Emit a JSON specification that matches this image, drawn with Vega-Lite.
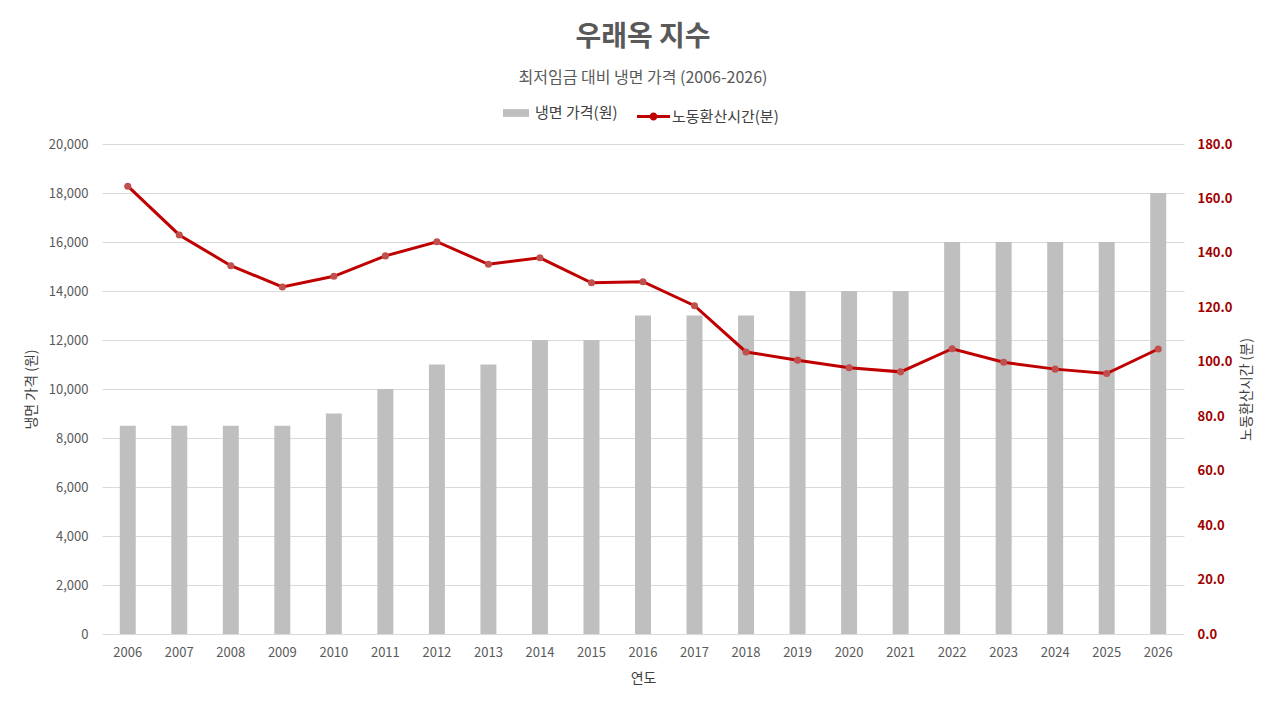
{
  "$schema": "https://vega.github.io/schema/vega-lite/v6.json",
  "width": 1082,
  "height": 490,
  "autosize": "none",
  "padding": {"left": 102, "top": 144, "right": 96, "bottom": 78},
  "background": "white",
  "title": {
    "text": "우래옥 지수",
    "subtitle": "최저임금 대비 냉면 가격 (2006-2026)",
    "font": "Noto Sans CJK KR",
    "fontSize": 28,
    "fontWeight": "bold",
    "color": "#595959",
    "subtitleFont": "Noto Sans CJK KR",
    "subtitleFontSize": 16,
    "subtitleColor": "#595959",
    "subtitlePadding": 18,
    "anchor": "middle",
    "offset": 14
  },
  "data": {
    "values": [
      {"year": "2006", "price": 8500, "minutes": 164.5, "s1": "냉면 가격(원)", "s2": "노동환산시간(분)"},
      {"year": "2007", "price": 8500, "minutes": 146.6, "s1": "냉면 가격(원)", "s2": "노동환산시간(분)"},
      {"year": "2008", "price": 8500, "minutes": 135.3, "s1": "냉면 가격(원)", "s2": "노동환산시간(분)"},
      {"year": "2009", "price": 8500, "minutes": 127.5, "s1": "냉면 가격(원)", "s2": "노동환산시간(분)"},
      {"year": "2010", "price": 9000, "minutes": 131.4, "s1": "냉면 가격(원)", "s2": "노동환산시간(분)"},
      {"year": "2011", "price": 10000, "minutes": 138.9, "s1": "냉면 가격(원)", "s2": "노동환산시간(분)"},
      {"year": "2012", "price": 11000, "minutes": 144.1, "s1": "냉면 가격(원)", "s2": "노동환산시간(분)"},
      {"year": "2013", "price": 11000, "minutes": 135.8, "s1": "냉면 가격(원)", "s2": "노동환산시간(분)"},
      {"year": "2014", "price": 12000, "minutes": 138.2, "s1": "냉면 가격(원)", "s2": "노동환산시간(분)"},
      {"year": "2015", "price": 12000, "minutes": 129.0, "s1": "냉면 가격(원)", "s2": "노동환산시간(분)"},
      {"year": "2016", "price": 13000, "minutes": 129.4, "s1": "냉면 가격(원)", "s2": "노동환산시간(분)"},
      {"year": "2017", "price": 13000, "minutes": 120.6, "s1": "냉면 가격(원)", "s2": "노동환산시간(분)"},
      {"year": "2018", "price": 13000, "minutes": 103.6, "s1": "냉면 가격(원)", "s2": "노동환산시간(분)"},
      {"year": "2019", "price": 14000, "minutes": 100.6, "s1": "냉면 가격(원)", "s2": "노동환산시간(분)"},
      {"year": "2020", "price": 14000, "minutes": 97.8, "s1": "냉면 가격(원)", "s2": "노동환산시간(분)"},
      {"year": "2021", "price": 14000, "minutes": 96.3, "s1": "냉면 가격(원)", "s2": "노동환산시간(분)"},
      {"year": "2022", "price": 16000, "minutes": 104.8, "s1": "냉면 가격(원)", "s2": "노동환산시간(분)"},
      {"year": "2023", "price": 16000, "minutes": 99.8, "s1": "냉면 가격(원)", "s2": "노동환산시간(분)"},
      {"year": "2024", "price": 16000, "minutes": 97.3, "s1": "냉면 가격(원)", "s2": "노동환산시간(분)"},
      {"year": "2025", "price": 16000, "minutes": 95.7, "s1": "냉면 가격(원)", "s2": "노동환산시간(분)"},
      {"year": "2026", "price": 18000, "minutes": 104.7, "s1": "냉면 가격(원)", "s2": "노동환산시간(분)"}
    ]
  },
  "encoding": {
    "x": {
      "field": "year",
      "type": "ordinal",
      "title": "연도",
      "scale": {"paddingInner": 0.69, "paddingOuter": 0.345},
      "axis": {
        "labelAngle": 0,
        "ticks": false,
        "domain": false,
        "labelPadding": 12,
        "titlePadding": 12
      }
    }
  },
  "layer": [
    {
      "mark": {"type": "bar", "color": "#bfbfbf"},
      "encoding": {
        "y": {
          "field": "price",
          "type": "quantitative",
          "title": "냉면 가격 (원)",
          "scale": {"domain": [0, 20000]},
          "axis": {
            "values": [0, 2000, 4000, 6000, 8000, 10000, 12000, 14000, 16000, 18000, 20000],
            "format": ",.0f",
            "ticks": false,
            "domain": false,
            "labelPadding": 14,
            "titlePadding": 10
          }
        },
        "fill": {
          "field": "s1",
          "type": "nominal",
          "scale": {"range": ["#bfbfbf"]},
          "legend": {
            "title": null,
            "orient": "none",
            "legendX": 401,
            "legendY": -44,
            "symbolType": "M-1,-0.3H1V0.3H-1Z",
            "symbolSize": 676,
            "symbolStrokeWidth": 0,
            "labelOffset": 6
          }
        }
      }
    },
    {
      "mark": {"type": "line", "color": "#c00000", "strokeWidth": 3},
      "encoding": {
        "y": {
          "field": "minutes",
          "type": "quantitative",
          "title": "노동환산시간 (분)",
          "scale": {"domain": [0, 180]},
          "axis": {
            "orient": "right",
            "values": [0, 20, 40, 60, 80, 100, 120, 140, 160, 180],
            "format": ".1f",
            "grid": false,
            "ticks": false,
            "domain": false,
            "labelPadding": 13,
            "labelColor": "#a00000",
            "labelFontWeight": "bold",
            "titleAngle": 270,
            "titlePadding": 22
          }
        },
        "stroke": {
          "field": "s2",
          "type": "nominal",
          "scale": {"range": ["#c00000"]},
          "legend": {
            "title": null,
            "orient": "none",
            "legendX": 535,
            "legendY": -44,
            "symbolType": "M-1,-0.09H1V0.09H-1Z M0.24,0A0.24,0.24,0,1,1,-0.24,0A0.24,0.24,0,1,1,0.24,0Z",
            "symbolSize": 1089,
            "symbolStrokeWidth": 0,
            "symbolFillColor": "#c00000",
            "labelOffset": 2,
            "encode": {"symbols": {"update": {"fill": {"value": "#c00000"}}}}
          }
        }
      }
    },
    {
      "mark": {"type": "point", "filled": true, "color": "#c0504d", "size": 50, "opacity": 1},
      "encoding": {
        "y": {"field": "minutes", "type": "quantitative", "scale": {"domain": [0, 180]}, "axis": null}
      }
    }
  ],
  "resolve": {"scale": {"y": "independent"}},
  "config": {
    "font": "Noto Sans CJK KR",
    "view": {"stroke": null},
    "axis": {
      "labelFont": "Noto Sans CJK KR",
      "labelFontSize": 13,
      "labelColor": "#595959",
      "titleFont": "Noto Sans CJK KR",
      "titleFontSize": 14,
      "titleFontWeight": "normal",
      "titleColor": "#404040",
      "gridColor": "#d9d9d9",
      "gridWidth": 1
    },
    "legend": {
      "labelFont": "Noto Sans CJK KR",
      "labelFontSize": 15,
      "labelColor": "#404040"
    }
  }
}
